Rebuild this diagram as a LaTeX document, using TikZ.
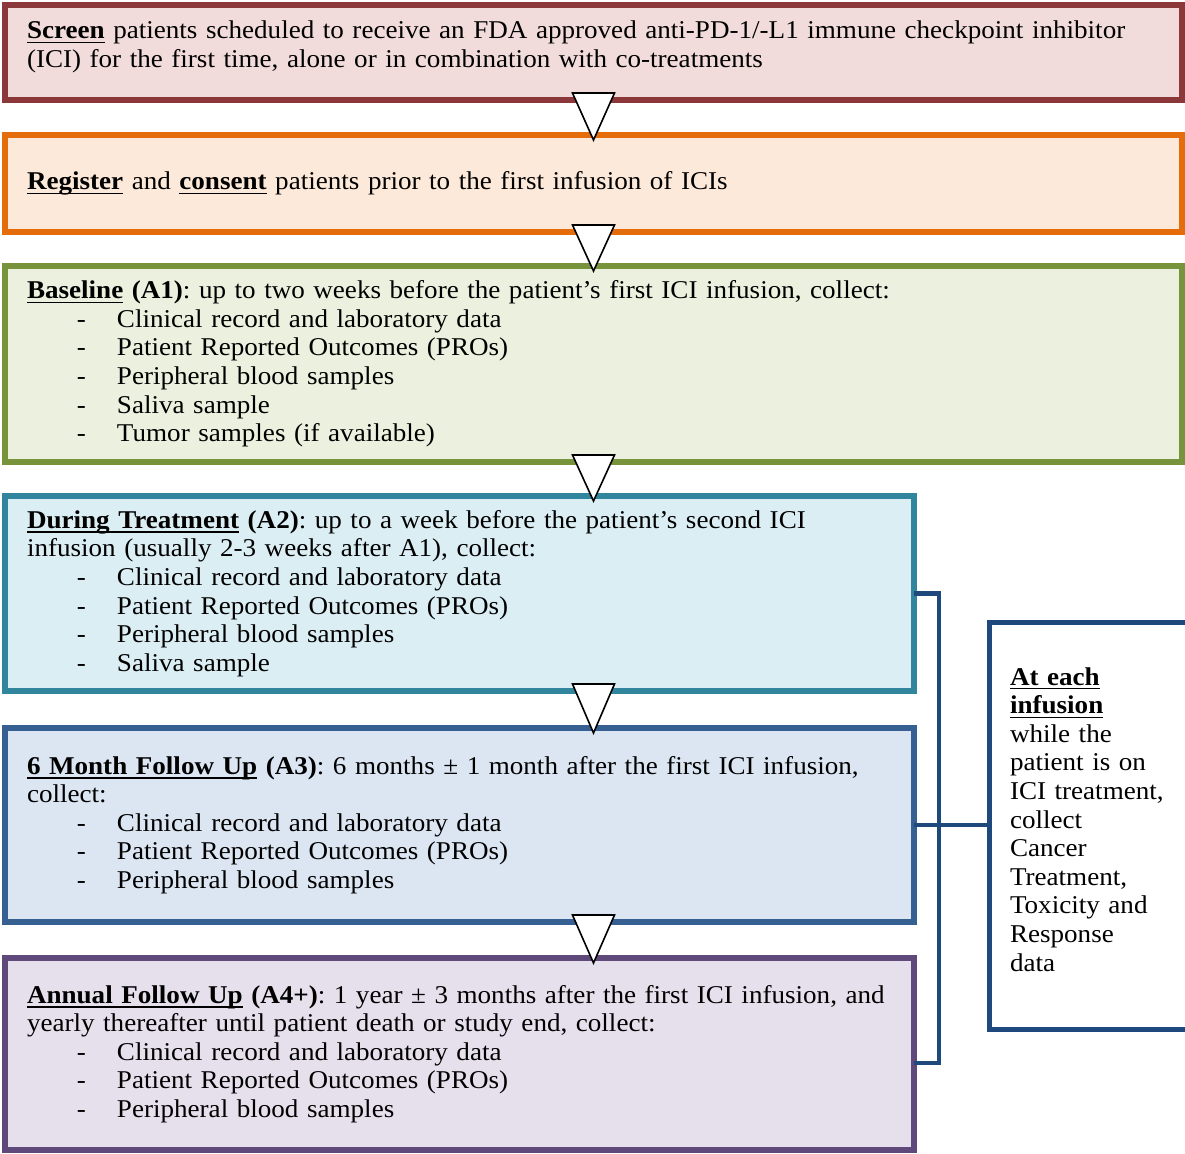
\documentclass[tikz,border=0pt]{standalone}
\usepackage{fontspec}
\setmainfont{Liberation Serif}[FakeStretch=1.058]
\usepackage{tikz}
\usetikzlibrary{positioning, calc}
\definecolor{scrred}{RGB}{140,56,58}
\definecolor{scrfill}{RGB}{242,220,219}
\definecolor{regorange}{RGB}{228,108,10}
\definecolor{regfill}{RGB}{253,233,217}
\definecolor{basegreen}{RGB}{119,147,60}
\definecolor{basefill}{RGB}{235,241,222}
\definecolor{durteal}{RGB}{49,133,156}
\definecolor{durfill}{RGB}{219,238,244}
\definecolor{monblue}{RGB}{55,96,146}
\definecolor{monfill}{RGB}{220,230,242}
\definecolor{annpurple}{RGB}{95,73,122}
\definecolor{annfill}{RGB}{229,224,236}
\definecolor{noteblue}{RGB}{31,73,125}
\newsavebox{\ubbox}
\newcommand{\ub}[1]{\mbox{\sbox{\ubbox}{\textbf{#1}}\rlap{\rule[-2.2pt]{\wd\ubbox}{0.75pt}}\usebox{\ubbox}}}
\newcommand{\itm}{\makebox[45pt][l]{\hspace*{25pt}-}}

\begin{document}
\frenchspacing
\begin{tikzpicture}[
    x=0.5pt, y=-0.5pt,
    stagebox/.style={draw, line width=2.75pt, outer sep=0pt, inner xsep=11pt, inner ysep=0pt,
                     align=left, font=\fontsize{12.8pt}{14.3pt}\selectfont},
    widebox/.style={stagebox, text width=566.5pt},
    narrowbox/.style={stagebox, text width=432.5pt, anchor=north west},
    notebox/.style={draw=noteblue, line width=2.5pt, outer sep=0pt, fill=white, inner xsep=10.5pt,
                    inner ysep=0pt, text width=87pt, align=left, anchor=north west,
                    font=\fontsize{12.8pt}{14.3pt}\selectfont},
    tri/.style={draw=black, line width=0.8pt, fill=white, line join=miter},
    bracket/.style={draw=noteblue, line width=2.4pt}
  ]
    \useasboundingbox (0,0) rectangle (1185,1153);

    % left column: study stages
    \node[widebox, draw=scrred, fill=scrfill, minimum height=47.5pt, anchor=north west] (screen) at (5,5)
      {\mbox{\ub{Screen} patients scheduled to receive an FDA approved anti-PD-1/-L1 immune checkpoint inhibitor}\\
       (ICI) for the first time, alone or in combination with co-treatments\par\vspace{-6pt}\null};
    \node[widebox, draw=regorange, fill=regfill, minimum height=48.5pt, below=17.5pt of screen] (register)
      {\ub{Register} and \ub{consent} patients prior to the first infusion of ICIs};
    \node[widebox, draw=basegreen, fill=basefill, minimum height=98pt, below=17pt of register] (baseline)
      {\mbox{\ub{Baseline} \textbf{(A1)}: up to two weeks before the patient's first ICI infusion, collect:}\\
       \itm Clinical record and laboratory data\\
       \itm Patient Reported Outcomes (PROs)\\
       \itm Peripheral blood samples\\
       \itm Saliva sample\\
       \itm Tumor samples (if available)};
    \node[narrowbox, draw=durteal, fill=durfill, minimum height=97.5pt,
          below=17pt of baseline.south west, anchor=north west] (during)
      {\mbox{\ub{During Treatment} \textbf{(A2)}: up to a week before the patient's second ICI}\\
       infusion (usually 2-3 weeks after A1), collect:\\
       \itm Clinical record and laboratory data\\
       \itm Patient Reported Outcomes (PROs)\\
       \itm Peripheral blood samples\\
       \itm Saliva sample};
    \node[narrowbox, draw=monblue, fill=monfill, minimum height=97pt,
          below=18.5pt of during.south west, anchor=north west] (month6)
      {\mbox{\ub{6 Month Follow Up} \textbf{(A3)}: 6 months ± 1 month after the first ICI infusion,}\\
       collect:\\
       \itm Clinical record and laboratory data\\
       \itm Patient Reported Outcomes (PROs)\\
       \itm Peripheral blood samples};
    \node[narrowbox, draw=annpurple, fill=annfill, minimum height=96pt,
          below=18pt of month6.south west, anchor=north west] (annual)
      {\mbox{\ub{Annual Follow Up} \textbf{(A4+)}: 1 year ± 3 months after the first ICI infusion, and}\\
       \mbox{yearly thereafter until patient death or study end, collect:}\\
       \itm Clinical record and laboratory data\\
       \itm Patient Reported Outcomes (PROs)\\
       \itm Peripheral blood samples};

    % right side: per-infusion collection
    \node[notebox, minimum height=203.5pt] (note) at (989,622)
      {\ub{At each}\\
       \ub{infusion}\\
       while the\\
       patient is on\\
       ICI treatment,\\
       collect\\
       Cancer\\
       Treatment,\\
       Toxicity and\\
       Response\\
       data\par\vspace{-8pt}\null};

    % open triangles between stages
    \foreach \a/\b in {screen/register, register/baseline, baseline/during, during/month6, month6/annual}
      \draw[tri] ($(\a.south -| screen.south)+(-21,-7)$) -- ++(42,0)
                 -- ($(\b.north -| screen.south)+(0,5)$) -- cycle;

    % bracket joining A2--A4+ to the note
    \draw[bracket] (during.east) -- ++(25,0) |- ([yshift=-4.5pt]annual.east);
    \draw[bracket] (month6.east) -- (month6.east -| note.west);
  \end{tikzpicture}
\end{document}
